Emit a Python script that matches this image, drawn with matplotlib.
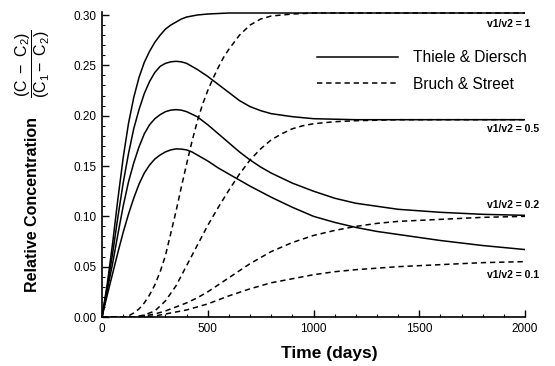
import matplotlib
matplotlib.use("Agg")
import matplotlib.pyplot as plt
from matplotlib.ticker import MultipleLocator, FormatStrFormatter

plt.rcParams['font.family'] = ['Liberation Sans', 'DejaVu Sans']
plt.rcParams['mathtext.fontset'] = 'custom'
plt.rcParams['mathtext.rm'] = 'Liberation Sans'
plt.rcParams['mathtext.it'] = 'Liberation Sans'

# Thiele & Diersch (solid lines)
td_v1_days = [0, 25, 50, 75, 100, 125, 150, 175, 200, 225, 250, 275, 300, 325, 350, 375, 400, 450, 500, 600, 2000]
td_v1 = [0, 0.033, 0.073, 0.117, 0.158, 0.192, 0.218, 0.238, 0.253, 0.264, 0.273, 0.280, 0.286, 0.290, 0.293,
         0.296, 0.298, 0.300, 0.301, 0.302, 0.302]

td_v05_days = [0, 25, 50, 75, 100, 125, 150, 175, 200, 225, 250, 275, 300, 325, 350, 375, 400, 425, 450, 500, 550,
               600, 650, 700, 750, 800, 900, 1000, 1200, 2000]
td_v05 = [0, 0.030, 0.063, 0.099, 0.133, 0.162, 0.187, 0.206, 0.222, 0.234, 0.243, 0.249, 0.252, 0.2535, 0.254,
          0.2535, 0.252, 0.249, 0.246, 0.239, 0.231, 0.223, 0.215, 0.209, 0.205, 0.202, 0.199, 0.197, 0.196, 0.196]

td_v02_days = [0, 25, 50, 75, 100, 125, 150, 175, 200, 225, 250, 275, 300, 325, 350, 375, 400, 425, 450, 475, 500,
               550, 600, 650, 700, 750, 800, 900, 1000, 1100, 1200, 1300, 1400, 1600, 1800, 2000]
td_v02 = [0, 0.027, 0.053, 0.082, 0.110, 0.134, 0.153, 0.169, 0.182, 0.191, 0.197, 0.201, 0.204, 0.2055, 0.206,
          0.2055, 0.204, 0.2015, 0.199, 0.195, 0.191, 0.182, 0.173, 0.164, 0.156, 0.149, 0.143, 0.133, 0.125, 0.118,
          0.113, 0.110, 0.107, 0.104, 0.102, 0.101]

td_v01_days = [0, 25, 50, 75, 100, 125, 150, 175, 200, 225, 250, 275, 300, 325, 350, 375, 400, 425, 450, 475, 500,
               550, 600, 650, 700, 800, 900, 1000, 1100, 1200, 1300, 1400, 1600, 1800, 2000]
td_v01 = [0, 0.022, 0.043, 0.064, 0.084, 0.102, 0.118, 0.132, 0.143, 0.151, 0.157, 0.161, 0.164, 0.166, 0.167,
          0.1668, 0.166, 0.164, 0.161, 0.158, 0.155, 0.148, 0.142, 0.136, 0.130, 0.119, 0.109, 0.100, 0.094, 0.089,
          0.085, 0.082, 0.076, 0.071, 0.067]

# Bruch & Street (dashed lines)
bs_v1_days = [0, 100, 125, 150, 175, 200, 225, 250, 275, 300, 325, 350, 375, 400, 425, 450, 475, 500, 525, 550, 575,
              600, 650, 700, 750, 800, 900, 1000, 2000]
bs_v1 = [0, 0, 0.001, 0.004, 0.008, 0.014, 0.022, 0.032, 0.045, 0.061, 0.083, 0.105, 0.129, 0.152, 0.174, 0.194,
         0.211, 0.225, 0.237, 0.248, 0.258, 0.266, 0.280, 0.290, 0.296, 0.299, 0.301, 0.302, 0.302]

bs_v05_days = [0, 150, 200, 250, 300, 350, 400, 450, 500, 550, 600, 650, 700, 750, 800, 850, 900, 950, 1000, 1100,
               1200, 1400, 2000]
bs_v05 = [0, 0, 0.002, 0.006, 0.016, 0.031, 0.051, 0.071, 0.091, 0.109, 0.126, 0.142, 0.156, 0.167, 0.176, 0.182,
          0.187, 0.190, 0.192, 0.194, 0.195, 0.196, 0.196]

bs_v02_days = [0, 150, 200, 250, 300, 350, 400, 450, 500, 550, 600, 650, 700, 750, 800, 900, 1000, 1100, 1200, 1300,
               1400, 1600, 1800, 2000]
bs_v02 = [0, 0, 0.001, 0.003, 0.006, 0.010, 0.014, 0.019, 0.025, 0.032, 0.039, 0.046, 0.053, 0.059, 0.065, 0.074,
          0.081, 0.086, 0.090, 0.093, 0.095, 0.097, 0.099, 0.100]

bs_v01_days = [0, 200, 250, 300, 350, 400, 450, 500, 550, 600, 700, 800, 900, 1000, 1100, 1200, 1400, 1600, 1800, 2000]
bs_v01 = [0, 0, 0.001, 0.003, 0.005, 0.007, 0.010, 0.013, 0.017, 0.021, 0.028, 0.034, 0.038, 0.042, 0.045, 0.047,
          0.050, 0.052, 0.054, 0.055]

ratio_labels = ['v1/v2 = 1', 'v1/v2 = 0.5', 'v1/v2 = 0.2', 'v1/v2 = 0.1']
label_x = [1820, 1820, 1820, 1820]
label_y = [0.296, 0.192, 0.106, 0.047]
label_va = ['top', 'top', 'bottom', 'top']

fig = plt.figure(figsize=(5.55, 3.66), dpi=100)
ax = fig.add_axes([102 / 555, 49 / 366, 423 / 555, 305 / 366])

lw = 1.1
solid = [(td_v1_days, td_v1), (td_v05_days, td_v05), (td_v02_days, td_v02), (td_v01_days, td_v01)]
dashed = [(bs_v1_days, bs_v1), (bs_v05_days, bs_v05), (bs_v02_days, bs_v02), (bs_v01_days, bs_v01)]
for i, (d, v) in enumerate(solid):
    ax.plot(d, v, color='black', lw=lw, label='Thiele & Diersch' if i == 0 else None)
for i, (d, v) in enumerate(dashed):
    ax.plot(d, v, color='black', lw=lw, dashes=(3.5, 2.5), label='Bruch & Street' if i == 0 else None)

for txt, x, y, va in zip(ratio_labels, label_x, label_y, label_va):
    ax.text(x, y, txt, fontsize=7.5, fontweight='bold', va=va, ha='left', clip_on=False)

ax.set_xlim(0, 2000)
ax.set_ylim(0, 0.303)
ax.spines['top'].set_visible(False)
ax.spines['right'].set_visible(False)
ax.spines['left'].set_linewidth(1.2)
ax.spines['bottom'].set_linewidth(1.2)

ax.xaxis.set_major_locator(MultipleLocator(500))
ax.xaxis.set_minor_locator(MultipleLocator(100))
ax.yaxis.set_major_locator(MultipleLocator(0.05))
ax.yaxis.set_minor_locator(MultipleLocator(0.01))
ax.yaxis.set_major_formatter(FormatStrFormatter('%.2f'))
ax.tick_params(which='major', direction='in', length=5, width=1, labelsize=8.5, pad=4)
ax.tick_params(which='minor', direction='in', length=2.5, width=0.8)

ax.set_xlabel('Time (days)', fontsize=12.5, fontweight='bold')
ax.xaxis.set_label_coords(0.537, -0.095)

# y label: bold words plus the concentration ratio as a fraction
fig.text(33 / 555, 1 - 205 / 366, 'Relative Concentration', rotation=90, ha='center', va='center',
         fontsize=11.5, fontweight='bold')
fig.text(33 / 555, 1 - 64 / 366, r'$\dfrac{\mathregular{(C\ -\ C_2)}}{\mathregular{(C_1-\ C_2)}}$', rotation=90,
         ha='center', va='center', fontsize=11.5)

ax.legend(loc='upper left', bbox_to_anchor=(0.508, 0.875), frameon=False, fontsize=11.2,
          handlelength=5.2, handletextpad=1.0, labelspacing=0.75, borderpad=0, borderaxespad=0)

fig.savefig('out.png', dpi=100)
